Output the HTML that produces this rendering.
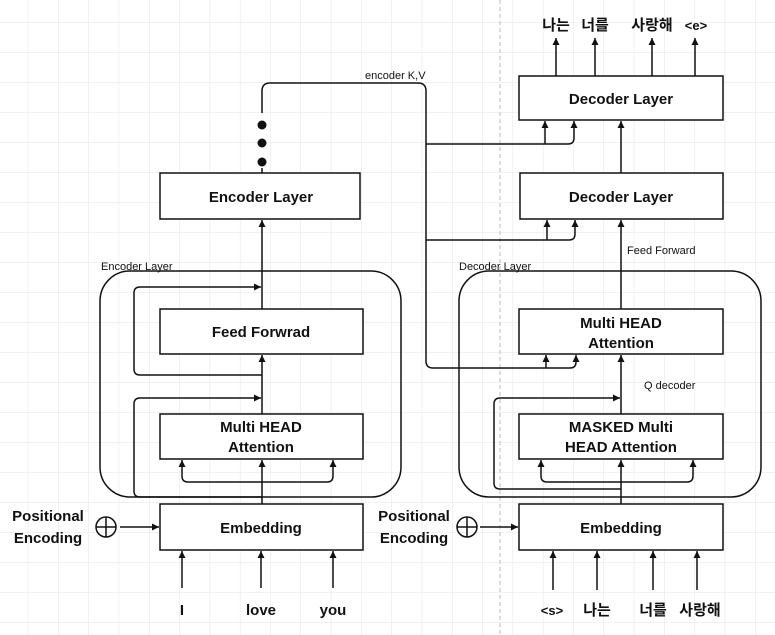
<!DOCTYPE html>
<html><head><meta charset="utf-8"><style>
html,body{margin:0;padding:0;background:#fff;}
svg{display:block;}
text{font-family:"Liberation Sans","Noto Sans CJK KR",sans-serif;fill:#111;}
.b{font-weight:bold;font-size:15px;}
.s{font-size:11px;}
</style></head><body>
<svg width="775" height="635" viewBox="0 0 775 635" xmlns="http://www.w3.org/2000/svg">
<defs>
<pattern id="g" x="-2" y="-7" width="30.3" height="30" patternUnits="userSpaceOnUse">
<path d="M30.3 0V30M0 30H30.3" stroke="#e3e3e3" stroke-width="1" fill="none"/>
</pattern>
<marker id="a" markerWidth="8" markerHeight="8" refX="7" refY="4" orient="auto" markerUnits="userSpaceOnUse" viewBox="0 0 8 8">
<path d="M0 0.5 L7 4 L0 7.5 Z" fill="#111"/>
</marker>
</defs>
<rect width="775" height="635" fill="url(#g)"/>
<line x1="500" y1="0" x2="500" y2="635" stroke="#bbb" stroke-dasharray="4,3"/>

<g fill="none" stroke="#111" stroke-width="1.5">
<rect x="100" y="271" width="301" height="226" rx="30"/>
<rect x="459" y="271" width="302" height="226" rx="30"/>
<rect x="160" y="173" width="200" height="46" fill="#fff"/>
<rect x="160" y="309" width="203" height="45" fill="#fff"/>
<rect x="160" y="414" width="203" height="45" fill="#fff"/>
<rect x="160" y="504" width="203" height="46" fill="#fff"/>
<rect x="519" y="76" width="204" height="44" fill="#fff"/>
<rect x="520" y="173" width="203" height="46" fill="#fff"/>
<rect x="519" y="309" width="204" height="45" fill="#fff"/>
<rect x="519" y="414" width="204" height="45" fill="#fff"/>
<rect x="519" y="504" width="204" height="46" fill="#fff"/>

<line x1="262" y1="504" x2="262" y2="460" marker-end="url(#a)"/>
<line x1="262" y1="414" x2="262" y2="355" marker-end="url(#a)"/>
<line x1="262" y1="309" x2="262" y2="220" marker-end="url(#a)"/>
<line x1="262" y1="173" x2="262" y2="168"/>
<path d="M262 497 H140 Q134 497 134 491 V404 Q134 398 140 398 H261" marker-end="url(#a)"/>
<path d="M262 375 H140 Q134 375 134 369 V293 Q134 287 140 287 H261" marker-end="url(#a)"/>
<path d="M262 482 H188 Q182 482 182 476 V460" marker-end="url(#a)"/>
<path d="M262 482 H327 Q333 482 333 476 V460" marker-end="url(#a)"/>
<line x1="182" y1="588" x2="182" y2="551" marker-end="url(#a)"/>
<line x1="261" y1="588" x2="261" y2="551" marker-end="url(#a)"/>
<line x1="333" y1="588" x2="333" y2="551" marker-end="url(#a)"/>
<circle cx="106" cy="527" r="10"/>
<path d="M96 527H116M106 517V537"/>
<line x1="120" y1="527" x2="159" y2="527" marker-end="url(#a)"/>
<circle cx="467" cy="527" r="10"/>
<path d="M457 527H477M467 517V537"/>
<line x1="480" y1="527" x2="518" y2="527" marker-end="url(#a)"/>

<path d="M262 113 V91 Q262 83 270 83 H418 Q426 83 426 91 V361 Q426 368 433 368 H570 Q576 368 576 362 V355" marker-end="url(#a)"/>
<line x1="546" y1="368" x2="546" y2="355" marker-end="url(#a)"/>
<path d="M426 240 H569 Q575 240 575 234 V220" marker-end="url(#a)"/>
<line x1="547" y1="240" x2="547" y2="220" marker-end="url(#a)"/>
<path d="M426 144 H568 Q574 144 574 138 V121" marker-end="url(#a)"/>
<line x1="545" y1="144" x2="545" y2="121" marker-end="url(#a)"/>

<line x1="621" y1="504" x2="621" y2="460" marker-end="url(#a)"/>
<line x1="621" y1="414" x2="621" y2="355" marker-end="url(#a)"/>
<line x1="621" y1="309" x2="621" y2="220" marker-end="url(#a)"/>
<line x1="621" y1="173" x2="621" y2="121" marker-end="url(#a)"/>
<path d="M621 489 H500 Q494 489 494 483 V404 Q494 398 500 398 H620" marker-end="url(#a)"/>
<path d="M621 482 H547 Q541 482 541 476 V460" marker-end="url(#a)"/>
<path d="M621 482 H687 Q693 482 693 476 V460" marker-end="url(#a)"/>
<line x1="553" y1="590" x2="553" y2="551" marker-end="url(#a)"/>
<line x1="597" y1="590" x2="597" y2="551" marker-end="url(#a)"/>
<line x1="653" y1="590" x2="653" y2="551" marker-end="url(#a)"/>
<line x1="697" y1="590" x2="697" y2="551" marker-end="url(#a)"/>
<line x1="556" y1="76" x2="556" y2="38" marker-end="url(#a)"/>
<line x1="595" y1="76" x2="595" y2="38" marker-end="url(#a)"/>
<line x1="652" y1="76" x2="652" y2="38" marker-end="url(#a)"/>
<line x1="695" y1="76" x2="695" y2="38" marker-end="url(#a)"/>
</g>
<circle cx="262" cy="125" r="4.5" fill="#111"/>
<circle cx="262" cy="143" r="4.5" fill="#111"/>
<circle cx="262" cy="162" r="4.5" fill="#111"/>

<g class="b" text-anchor="middle">
<text x="261" y="202">Encoder Layer</text>
<text x="261" y="337">Feed Forwrad</text>
<text x="261" y="432">Multi HEAD</text>
<text x="261" y="452">Attention</text>
<text x="261" y="533">Embedding</text>
<text x="621" y="104">Decoder Layer</text>
<text x="621" y="202">Decoder Layer</text>
<text x="621" y="328">Multi HEAD</text>
<text x="621" y="348">Attention</text>
<text x="621" y="432">MASKED Multi</text>
<text x="621" y="452">HEAD Attention</text>
<text x="621" y="533">Embedding</text>
<text x="48" y="521">Positional</text>
<text x="48" y="543">Encoding</text>
<text x="414" y="521">Positional</text>
<text x="414" y="543">Encoding</text>
<text x="182" y="615">I</text>
<text x="261" y="615">love</text>
<text x="333" y="615">you</text>
<text x="552" y="615" style="font-size:13px">&lt;s&gt;</text>
<text x="597" y="615">나는</text>
<text x="653" y="615">너를</text>
<text x="700" y="615">사랑해</text>
<text x="556" y="30">나는</text>
<text x="595" y="30">너를</text>
<text x="652" y="30">사랑해</text>
<text x="696" y="30" style="font-size:13px">&lt;e&gt;</text>
</g>
<g class="s">
<text x="101" y="270">Encoder Layer</text>
<text x="459" y="270">Decoder Layer</text>
<text x="365" y="79">encoder K,V</text>
<text x="627" y="254">Feed Forward</text>
<text x="644" y="389">Q decoder</text>
</g>
</svg>
</body></html>
